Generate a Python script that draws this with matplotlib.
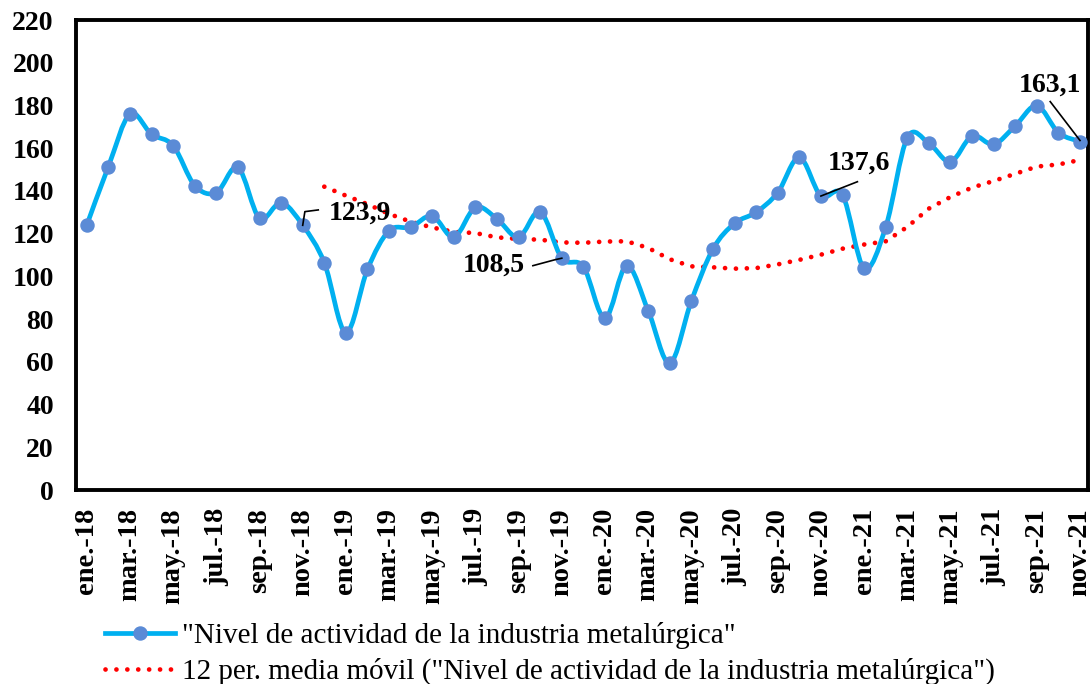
import numpy as np
import pandas as pd
import matplotlib
matplotlib.use("Agg")
import matplotlib.pyplot as plt
from matplotlib.path import Path
from matplotlib.patches import PathPatch
from matplotlib.lines import Line2D

plt.rcParams['font.family'] = ['Liberation Serif', 'DejaVu Serif']

# monthly index, ene-2018 .. nov-2021
months = ['ene.', 'feb.', 'mar.', 'abr.', 'may.', 'jun.',
          'jul.', 'ago.', 'sep.', 'oct.', 'nov.', 'dic.']
years = ['18', '19', '20', '21']
nivel = [124.0, 151.4, 176.0, 166.5, 161.2, 142.5, 139.2, 151.0, 127.2, 134.5, 123.9, 106.4,
         73.6, 103.3, 121.4, 123.0, 128.3, 118.3, 132.3, 126.9, 118.3, 130.3, 108.5, 104.5,
         80.4, 105.0, 84.0, 59.3, 88.5, 112.8, 124.8, 130.0, 139.2, 155.7, 137.6, 138.1,
         103.8, 123.0, 164.9, 162.3, 153.6, 165.7, 161.8, 170.4, 179.9, 167.3, 163.1]
labels = [m + '-' + y for y in years for m in months][:len(nivel)]

# points that carry a data label
label_idx = [10, 22, 34, 46]

serie_name = '"Nivel de actividad de la industria metalúrgica"'
ma_name = '12 per. media móvil ("Nivel de actividad de la industria metalúrgica")'

blue_line = '#00B0F0'
blue_mark = '#5B8BD6'
red_dots = (0, (0.01, 2.3))


def smooth_path(x, y):
    # excel-like smoothed line: catmull-rom turned into cubic beziers
    n = len(x)
    verts = [(x[0], y[0])]
    codes = [Path.MOVETO]
    for i in range(n - 1):
        a = i - 1 if i > 0 else i
        d = i + 2 if i + 2 < n else i + 1
        c1 = (x[i] + (x[i+1] - x[a]) / 6, y[i] + (y[i+1] - y[a]) / 6)
        c2 = (x[i+1] - (x[d] - x[i]) / 6, y[i+1] - (y[d] - y[i]) / 6)
        verts += [c1, c2, (x[i+1], y[i+1])]
        codes += [Path.CURVE4] * 3
    return Path(verts, codes)


x = np.arange(len(nivel))
y = np.array(nivel)
ma = pd.Series(nivel).rolling(12).mean()

fig = plt.figure(figsize=(10.92, 6.84), dpi=100)
ax = fig.add_axes([76/1092, 1-490/684, (1088-76)/1092, (490-20)/684])

ax.add_patch(PathPatch(smooth_path(x, y), fill=False, edgecolor=blue_line, lw=3.4,
                       capstyle='round', joinstyle='round', zorder=3))
ax.plot(x, y, ls='none', marker='o', ms=9.4, color=blue_mark, zorder=4)
ax.plot(x, ma, color='#FF0000', lw=3.4, ls=red_dots,
        dash_capstyle='round', zorder=2)

# data labels with leader lines
txt = dict(fontsize=20, fontweight='bold', zorder=5)
lead = dict(color='black', lw=1.2, zorder=5)
for i in label_idx:
    v = nivel[i]
    s = ('%.1f' % v).replace('.', ',')
    if i == 10:
        ax.plot([i, i+0.1, i+0.72], [v, v+6.4, v+7.2], **lead)
        ax.text(i+1.19, v+5.6, s, ha='left', va='center', **txt)
    elif i == 22:
        ax.plot([i-1.34, i-0.31, i], [v-3.5, v-0.7, v], **lead)
        ax.text(i-1.7, v-3.2, s, ha='right', va='center', **txt)
    elif i == 34:
        ax.plot([i, i+1.69], [v, v+6.7], **lead)
        ax.text(i+1.74, v+15.4, s, ha='center', va='center', **txt)
    else:
        ax.plot([i-1.38, i], [v+18.7, v+0.5], **lead)
        ax.text(i-1.38, v+26.5, s, ha='center', va='center', **txt)

ax.set_xlim(-0.5, 46.37)
ax.set_ylim(0, 220)
ax.set_yticks(np.arange(0, 221, 20))
ax.set_xticks(x[::2])
ax.set_xticklabels(labels[::2], rotation=90, fontsize=20.5, fontweight='bold')
for t in ax.get_yticklabels():
    t.set_fontsize(20)
    t.set_fontweight('bold')
ax.tick_params(axis='both', length=0)
ax.tick_params(axis='y', pad=16)
ax.tick_params(axis='x', pad=13)
for sp in ax.spines.values():
    sp.set_linewidth(2.8)
    sp.set_color('black')

handles = [Line2D([], [], color=blue_line, lw=3.4, marker='o', ms=9.4,
                  markerfacecolor=blue_mark, markeredgecolor=blue_mark),
           Line2D([], [], color='#FF0000', lw=3.4, ls=red_dots,
                  dash_capstyle='round')]
fig.legend(handles, [serie_name, ma_name], loc='upper left',
           bbox_to_anchor=(105/1092, 1-622/684), frameon=False, fontsize=21,
           handlelength=2.4, handletextpad=0.25, labelspacing=0.3,
           borderpad=0, borderaxespad=0)

fig.savefig('out.png', dpi=100)
